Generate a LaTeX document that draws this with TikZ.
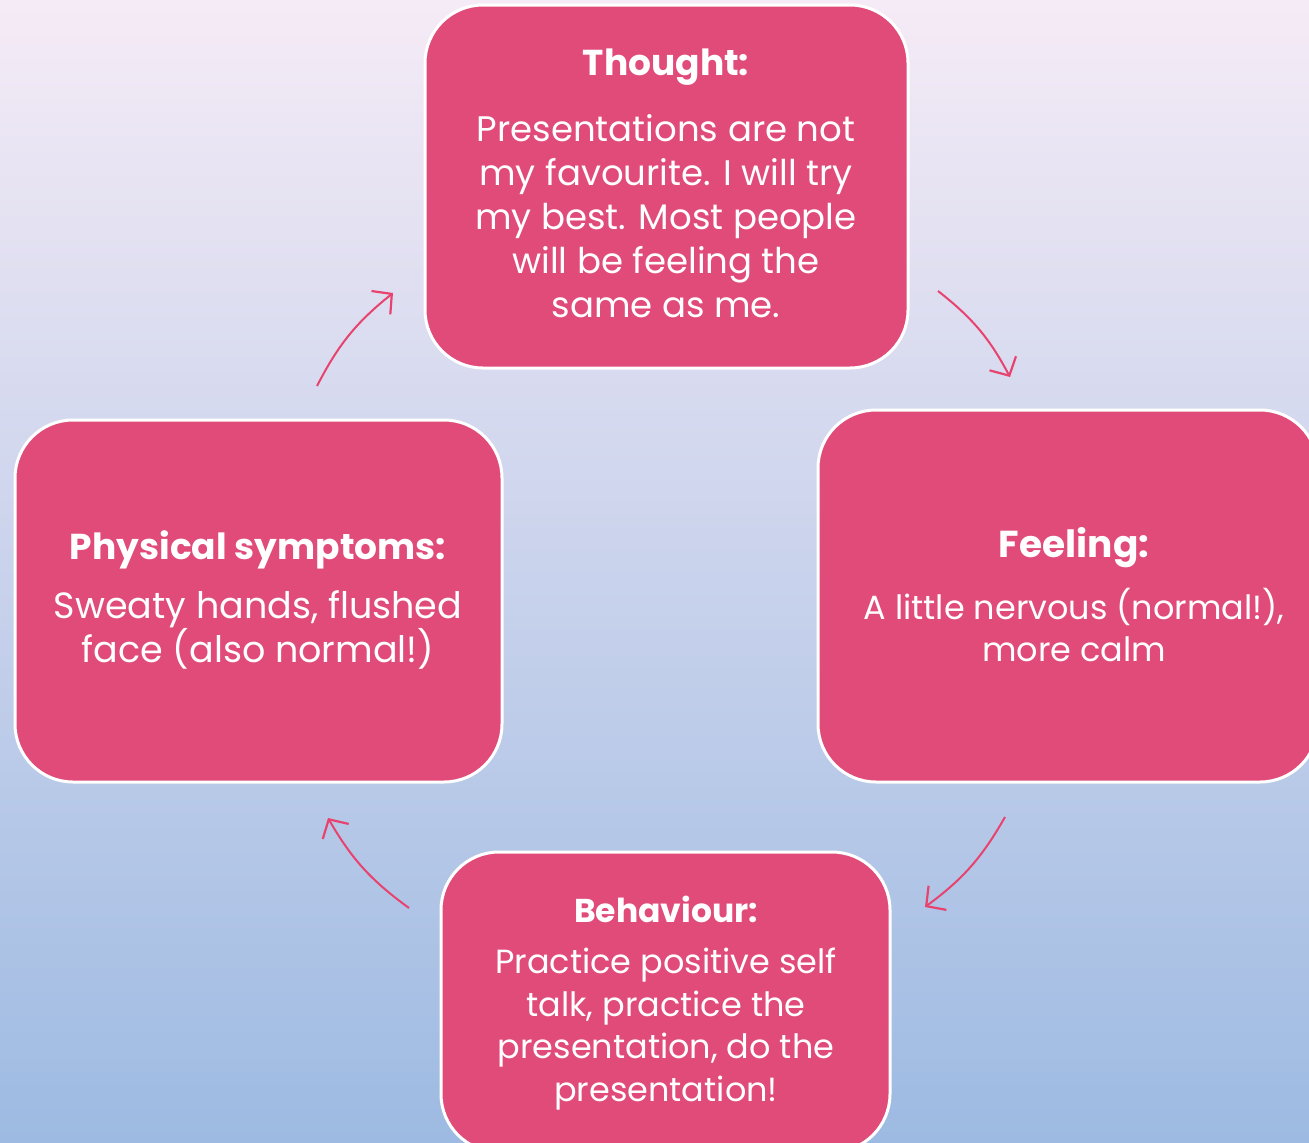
\documentclass[tikz,border=0pt]{standalone}
\usepackage{fontspec}
\setmainfont{Poppins}
\usetikzlibrary{arrows.meta}
\definecolor{boxfill}{RGB}{224,75,122}
\definecolor{arrowc}{RGB}{232,67,110}
\definecolor{bgtop}{RGB}{245,235,246}
\definecolor{bgmid}{RGB}{218,216,238}
\definecolor{bgbot}{RGB}{157,186,226}
\tikzset{
  box/.style={draw=white, line width=3pt, fill=boxfill, rounded corners=58pt, inner sep=0pt},
  ttl/.style={text=white, font=\fontsize{36}{40}\selectfont\bfseries},
  body/.style={text=white, align=center, font=\fontsize{35.5}{44}\selectfont},
  cyc/.style={draw=arrowc, line width=2pt, -{Straight Barb[length=14pt,width=30pt,line width=2.2pt]}}
}
\begin{document}
\begin{tikzpicture}[x=1pt,y=-1pt]
\useasboundingbox (0,0) rectangle (1309,1143);
\clip (0,0) rectangle (1309,1143);
\shade[top color=bgtop, middle color=bgmid, bottom color=bgbot] (0,0) rectangle (1309,1143);
% boxes
\node[box, minimum width=483pt, minimum height=363pt] (thought) at (666.5,186.5) {};
\node[box, minimum width=500pt, minimum height=372pt] (feeling) at (1068,596) {};
\node[box, minimum width=487pt, minimum height=362pt] (physical) at (258.5,601) {};
\node[box, minimum width=449pt, minimum height=300pt] (behaviour) at (665.5,1002) {};
% texts
\node[ttl] (thoughtT) at (666,67) {Thought:};
\node[body] (thoughtB) at (666,216) {Presentations are not\\my favourite. I will try\\my best. Most people\\will be feeling the\\same as me.};
\node[ttl, font=\fontsize{37.5}{40}\selectfont\bfseries] (feelingT) at (1074,548) {Feeling:};
\node[body, font=\fontsize{33.5}{42}\selectfont] (feelingB) at (1074,625) {A little nervous (normal!),\\more calm};
\node[ttl] (physicalT) at (258,550) {Physical symptoms:};
\node[body, font=\fontsize{36.5}{44}\selectfont] (physicalB) at (258,630) {Sweaty hands, flushed\\face (also normal!)};
\node[ttl, font=\fontsize{33}{36}\selectfont\bfseries] (behaviourT) at (666,909) {Behaviour:};
\node[body, font=\fontsize{33.5}{42.7}\selectfont] (behaviourB) at (666,1029) {Practice positive self\\talk, practice the\\presentation, do the\\presentation!};
% arrows
\coordinate (a1s) at (317,386); \coordinate (a1e) at (393,293);
\coordinate (a2s) at (938,291); \coordinate (a2e) at (1010,377);
\coordinate (a3s) at (1005,817); \coordinate (a3e) at (925,907);
\coordinate (a4s) at (409,908); \coordinate (a4e) at (328,818);
\draw[cyc] (a1s) to[bend left=12] (a1e);
\draw[cyc] (a2s) to[bend left=12] (a2e);
\draw[cyc] (a3s) to[bend left=12] (a3e);
\draw[cyc] (a4s) to[bend left=12] (a4e);
\end{tikzpicture}
\end{document}
